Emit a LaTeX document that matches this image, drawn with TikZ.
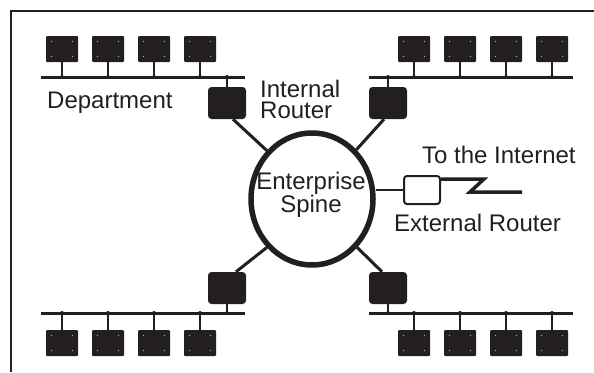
\documentclass[tikz,border=0pt]{standalone}
\usepackage{fontspec}
\setmainfont{Liberation Sans}
\usetikzlibrary{shapes.geometric,calc}
\definecolor{ink}{HTML}{231F20}
\begin{document}
\begin{tikzpicture}[x=1pt,y=-1pt,
  ws/.style={fill=ink, rounded corners=1pt, minimum width=32pt, minimum height=26pt, inner sep=0pt},
  router/.style={fill=ink, rounded corners=3.5pt, minimum width=38pt, minimum height=32pt, inner sep=0pt},
  extrouter/.style={draw=ink, fill=white, line width=2pt, rounded corners=3pt, minimum width=36pt, minimum height=28pt, inner sep=0pt},
  bus/.style={draw=ink, line width=3pt},
  drop/.style={draw=ink, line width=2.5pt},
  link/.style={draw=ink, line width=3pt},
  wan/.style={draw=ink, line width=3.5pt},
  lbl/.style={font=\fontsize{24}{21}\selectfont, text=ink, inner sep=0pt},
  screw/.style={fill=white!70!black}]
\useasboundingbox (0,0) rectangle (594,372);

% outer frame (top and left edges)
\draw[ink, line width=2pt] (11,372) -- (11,11) -- (594,11);

% backbone ring
\node[draw=ink, ellipse, line width=5.5pt, minimum width=122pt, minimum height=132pt, inner sep=0pt] (spine) at (312,199) {};
\node[lbl, anchor=north, align=center] (spinelbl) at (311,172) {Enterprise\\Spine};

% department LANs: bus ends
\coordinate (tlbL) at (41,77);  \coordinate (tlbR) at (245,77);
\coordinate (trbL) at (369,77); \coordinate (trbR) at (573,77);
\coordinate (blbL) at (41,313); \coordinate (blbR) at (245,313);
\coordinate (brbL) at (369,313); \coordinate (brbR) at (573,313);
\draw[bus] (tlbL) -- (tlbR);
\draw[bus] (trbL) -- (trbR);
\draw[bus] (blbL) -- (blbR);
\draw[bus] (brbL) -- (brbR);

% workstations on each bus
\foreach \x [count=\i] in {62,108,154,200} {
  \node[ws] (tl\i) at (\x,49) {};
  \draw[drop] (tl\i.south) -- (tl\i.south |- tlbL);
  \fill[ink] (tl\i.south |- tlbL) circle (2pt);
  \node[ws] (bl\i) at (\x,343) {};
  \draw[drop] (bl\i.north) -- (bl\i.north |- blbL);
  \fill[ink] (bl\i.north |- blbL) circle (2pt);
}
\foreach \x [count=\i] in {414,460,506,552} {
  \node[ws] (tr\i) at (\x,49) {};
  \draw[drop] (tr\i.south) -- (tr\i.south |- trbL);
  \fill[ink] (tr\i.south |- trbL) circle (2pt);
  \node[ws] (br\i) at (\x,343) {};
  \draw[drop] (br\i.north) -- (br\i.north |- brbL);
  \fill[ink] (br\i.north |- brbL) circle (2pt);
}
% mounting dots on the workstation boxes
\foreach \n in {tl1,tl2,tl3,tl4,tr1,tr2,tr3,tr4,bl1,bl2,bl3,bl4,br1,br2,br3,br4} {
  \foreach \dx/\dy in {-10.5/-7.5,10.5/-7.5,-10.5/7.5,10.5/7.5}
    \fill[screw] ($(\n.center)+(\dx,\dy)$) circle (0.6pt);
}

% internal routers
\node[router] (tlr) at (227,103) {};
\node[router] (trr) at (388,103) {};
\node[router] (blr) at (227,288) {};
\node[router] (brr) at (388,288) {};
\draw[drop] (tlr.north) -- (tlr.north |- tlbR);
\fill[ink] (tlr.north |- tlbR) circle (2pt);
\draw[drop] (trr.north) -- (trr.north |- trbL);
\fill[ink] (trr.north |- trbL) circle (2pt);
\draw[drop] (blr.south) -- (blr.south |- blbR);
\fill[ink] (blr.south |- blbR) circle (2pt);
\draw[drop] (brr.south) -- (brr.south |- brbL);
\fill[ink] (brr.south |- brbL) circle (2pt);

% router links into the ring
\draw[link] ($(tlr.south)+(6,0)$) -- (spine.133);
\draw[link] ($(trr.south)+(-4,0)$) -- (spine.48);
\draw[link] ($(blr.north)+(9,0)$) -- (spine.-133);
\draw[link] ($(brr.north)+(-6,0)$) -- (spine.-47);

% external router and WAN link
\node[extrouter] (ext) at (422,190) {};
\draw[draw=ink, line width=2pt] (spine.east |- ext.west) -- (ext.west);
\coordinate (wanend) at (522,192);
\draw[wan, line join=miter] ($(ext.north east)+(0,4)$) -- (484,179) -- (470,192) -- (wanend);

% labels
\node[lbl, anchor=base west] (dept) at (47,108) {Department};
\node[lbl, anchor=north west, align=left] (irlbl) at (260,80) {Internal\\Router};
\node[lbl, anchor=base west] (inet) at (422,163) {To the Internet};
\node[lbl, anchor=base west] (erlbl) at (394,231) {External Router};
\end{tikzpicture}
\end{document}
